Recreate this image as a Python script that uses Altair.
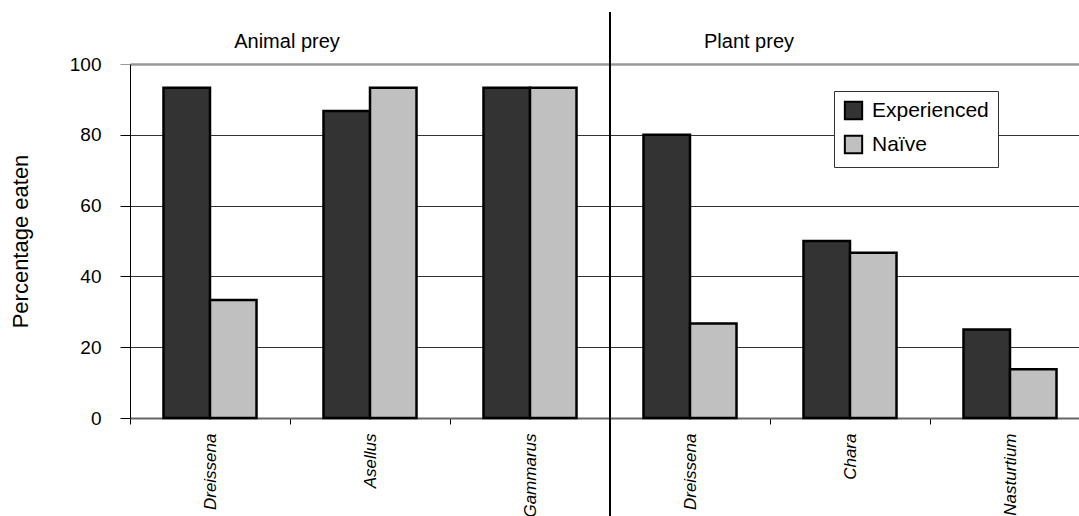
import altair as alt
import pandas as pd

groups = ["Animal prey", "Animal prey", "Animal prey", "Plant prey", "Plant prey", "Plant prey"]
prey = ["Dreissena", "Asellus", "Gammarus", "Dreissena", "Chara", "Nasturtium"]
experienced = [93.3, 86.7, 93.3, 80.0, 50.0, 25.0]
naive = [33.3, 93.3, 93.3, 26.7, 46.7, 13.8]
series = ["Experienced", "Naïve"]
colors = ["#333333", "#c0c0c0"]
y_ticks = [0, 20, 40, 60, 80, 100]

keys = [g + "|" + p for g, p in zip(groups, prey)]
rows = []
for k, e, n in zip(keys, experienced, naive):
    rows.append({"key": k, "series": series[0], "value": e})
    rows.append({"key": k, "series": series[1], "value": n})
df = pd.DataFrame(rows)

FONT = "Liberation Sans"
W, H = 949, 354

xscale = alt.Scale(domain=keys, range=[0, 960], paddingInner=0, paddingOuter=0)

bars = alt.Chart(df).mark_bar(stroke="black", strokeWidth=2.5).encode(
    x=alt.X("key:N", scale=xscale, sort=keys,
            axis=alt.Axis(title=None, labelAngle=270, labelFontStyle="italic",
                          labelFontSize=17, labelFont=FONT, labelColor="black",
                          labelPadding=9, tickSize=6, tickBand="extent",
                          tickColor="black", domainColor="#666666", domainWidth=2,
                          labelExpr="split(datum.label, '|')[1]", grid=False)),
    xOffset=alt.XOffset("series:N", sort=series,
                        scale=alt.Scale(paddingInner=0, paddingOuter=0.72)),
    y=alt.Y("value:Q", scale=alt.Scale(domain=[0, 100], nice=False),
            axis=alt.Axis(values=y_ticks, title="Percentage eaten", titleFontSize=22,
                          titleFont=FONT, titleFontWeight="normal", titleColor="black",
                          titleX=-98, titleY=177, titleAngle=270, titleBaseline="bottom",
                          titleAlign="center",
                          labelFontSize=19, labelFont=FONT, labelColor="black",
                          labelPadding=19, tickSize=10,
                          tickColor={"condition": {"test": "datum.value == 100", "value": "#999999"}, "value": "black"},
                          domainColor="black", domainWidth=1, grid=True,
                          gridColor={"condition": {"test": "datum.value == 100 || datum.value == 0", "value": "#999999"}, "value": "#333333"},
                          gridWidth={"condition": {"test": "datum.value == 100", "value": 2.5}, "value": 1},
                          gridOpacity=1)),
    color=alt.Color("series:N", sort=series,
                    scale=alt.Scale(domain=series, range=colors),
                    legend=alt.Legend(orient="none", legendX=704, legendY=27, title=None,
                                      direction="vertical", strokeColor="#333333",
                                      fillColor="white", padding=9, symbolType="square",
                                      symbolSize=300, symbolStrokeWidth=2,
                                      symbolStrokeColor="black", symbolOpacity=1,
                                      labelFontSize=21, labelFont=FONT, labelColor="black",
                                      rowPadding=7, labelOffset=8)),
)

divider_df = pd.DataFrame({"key": [keys[3]]})
divider = alt.Chart(divider_df).mark_rule(color="black", strokeWidth=2).encode(
    x=alt.X("key:N", bandPosition=0, scale=xscale, sort=keys),
    y=alt.value(-52),
    y2=alt.value(H + 100),
)

t1 = alt.Chart(pd.DataFrame({"key": [keys[1]], "label": [groups[0]]})).mark_text(
    font=FONT, fontSize=20, align="center", baseline="middle", color="black", dx=-3
).encode(x=alt.X("key:N", bandPosition=0, scale=xscale, sort=keys), y=alt.value(-22), text="label:N")

t2 = alt.Chart(pd.DataFrame({"key": [keys[4]], "label": [groups[3]]})).mark_text(
    font=FONT, fontSize=20, align="center", baseline="middle", color="black", dx=-21
).encode(x=alt.X("key:N", bandPosition=0, scale=xscale, sort=keys), y=alt.value(-22), text="label:N")

chart = alt.layer(bars, divider, t1, t2).properties(
    width=W, height=H,
    autosize=alt.AutoSizeParams(type="none"),
    padding={"left": 130, "top": 64, "right": 0, "bottom": 98},
).configure_view(stroke=None).configure(font=FONT, background="white")

chart.save("out.html", embed_options={"renderer": "svg", "actions": False})
